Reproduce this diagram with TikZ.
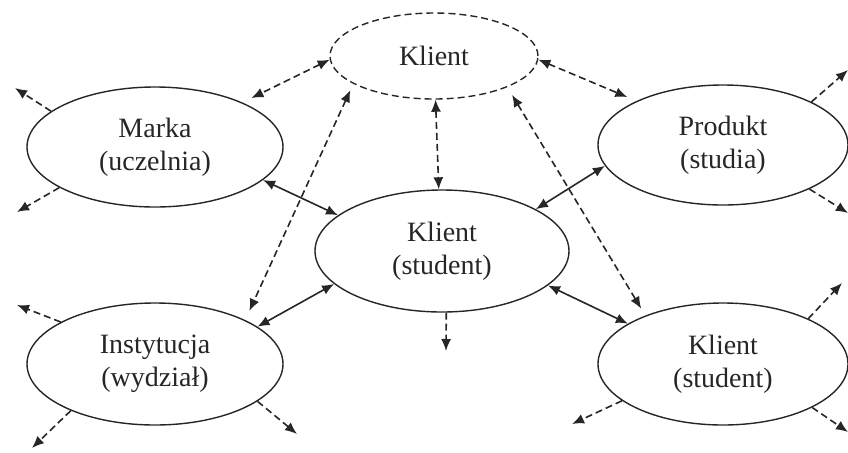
\documentclass[tikz,border=0pt]{standalone}
\usepackage{fontspec}
\setmainfont{Liberation Serif}
\usetikzlibrary{shapes.geometric,arrows.meta}

\begin{document}
\begin{tikzpicture}[x=0.5pt, y=-0.5pt,
        party/.style={ellipse,draw,line width=0.7pt,black!85,text=black!85,
        inner sep=0pt,align=center,font=\fontsize{14}{16.5}\selectfont},
        dashedparty/.style={party,dash pattern=on 3.5pt off 2pt},
        nondirectional/.style={line width=0.8pt,black!85},
        bidirectional/.style={nondirectional,{Latex[length=6pt,width=5pt]}-{Latex[length=6pt,width=5pt]}},
        dashedlink/.style={bidirectional,dash pattern=on 3.5pt off 2pt},
        outward/.style={nondirectional,dash pattern=on 3.5pt off 2pt,-{Latex[length=6pt,width=5pt]}}]

        \useasboundingbox (0,0) rectangle (848,452);

        \node [dashedparty,minimum width=104pt,minimum height=43pt] (klient)     at (434,56)  {Klient};
        \node [party,minimum width=128pt,minimum height=60pt]       (marka)      at (155,147) {Marka\\(uczelnia)};
        \node [party,minimum width=125pt,minimum height=60pt]       (produkt)    at (723,145) {Produkt\\(studia)};
        \node [party,minimum width=127pt,minimum height=61pt]       (student)    at (442,251) {Klient\\(student)};
        \node [party,minimum width=128pt,minimum height=61pt]       (instytucja) at (155,364) {Instytucja\\(wydział)};
        \node [party,minimum width=125pt,minimum height=61pt]       (klient2)    at (723,364) {Klient\\(student)};

        \coordinate (m1) at (15,88);
        \coordinate (m2) at (17,212);
        \coordinate (p1) at (848,70);
        \coordinate (p2) at (848,213);
        \coordinate (i1) at (17,305);
        \coordinate (i2) at (32,448);
        \coordinate (i3) at (297,434);
        \coordinate (s1) at (446,351);
        \coordinate (k1) at (842,283);
        \coordinate (k2) at (572,424);
        \coordinate (k3) at (848,432);

        \path [dashedlink,shorten >=5pt] (klient.182) edge (marka.27);
        \path [dashedlink,shorten >=5pt] (klient.358) edge (produkt.153);
        \path [dashedlink] (klient.272) edge (student.93);
        \path [dashedlink,shorten <=3.5pt,shorten >=5pt] (klient.199) edge (instytucja.26);
        \path [dashedlink,shorten <=4.5pt,shorten >=4pt] (klient.337) edge (klient2.148);

        \path [bidirectional] (marka.343) edge (student.161);
        \path [bidirectional] (produkt.190) edge (student.24);
        \path [bidirectional] (instytucja.20) edge (student.197);
        \path [bidirectional] (klient2.157) edge (student.342);

        \path [outward] (marka.161) edge (m1);
        \path [outward] (marka.203) edge (m2);
        \path [outward] (produkt.26) edge (p1);
        \path [outward] (produkt.333) edge (p2);
        \path [outward] (instytucja.156) edge (i1);
        \path [outward] (instytucja.209) edge (i2);
        \path [outward] (instytucja.340) edge (i3);
        \path [outward] (student.274) edge (s1);
        \path [outward] (klient2.28) edge (k1);
        \path [outward] (klient2.200) edge (k2);
        \path [outward] (klient2.334) edge (k3);
\end{tikzpicture}
\end{document}
